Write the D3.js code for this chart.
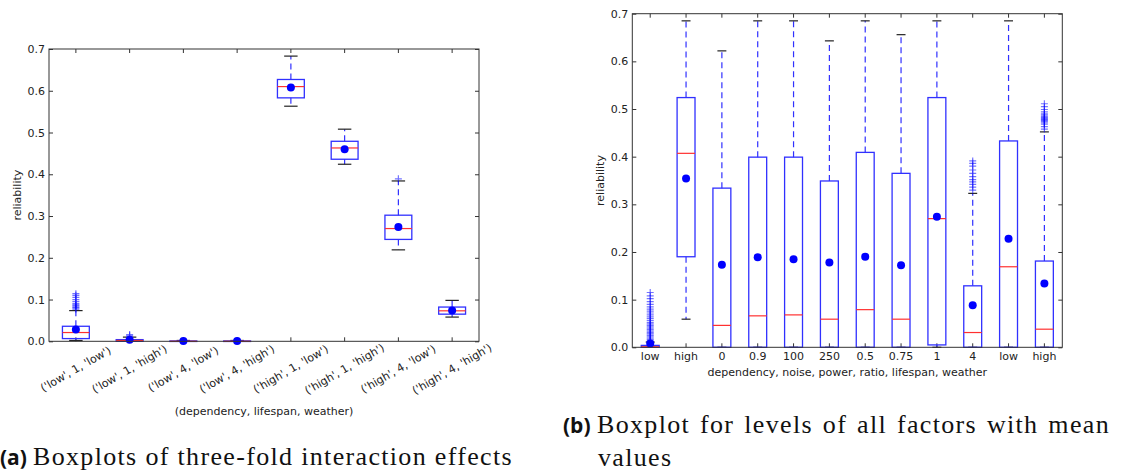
<!DOCTYPE html>
<html>
<head>
<meta charset="utf-8">
<script src="https://cdn.jsdelivr.net/npm/d3@7"></script>
<style>
  body { margin: 0; background: #fff; }
</style>
</head>
<body>
<script>
const width = 1124;
const height = 473;

// ---- panel (a) data ----
const leftCats = ["('low', 1, 'low')", "('low', 1, 'high')", "('low', 4, 'low')", "('low', 4, 'high')",
  "('high', 1, 'low')", "('high', 1, 'high')", "('high', 4, 'low')", "('high', 4, 'high')"];
const leftLow = [0.002, 0.0, 0.0, 0.0, 0.563, 0.424, 0.219, 0.058];
const leftQ1 = [0.0065, 0.0, 0.0, 0.0, 0.583, 0.436, 0.244, 0.065];
const leftMedian = [0.021, 0.002, 0.0, 0.0, 0.610, 0.463, 0.270, 0.073];
const leftQ3 = [0.036, 0.004, 0.0008, 0.0008, 0.627, 0.479, 0.302, 0.082];
const leftHigh = [0.0735, 0.010, 0.002, 0.002, 0.683, 0.508, 0.384, 0.098];
const leftMean = [0.028, 0.004, 0.001, 0.001, 0.608, 0.460, 0.274, 0.074];
const leftOutliers = [
  [0.077, 0.080, 0.082, 0.085, 0.087, 0.090, 0.095, 0.100, 0.105, 0.110, 0.114],
  [0.013, 0.016], [], [], [], [], [0.389], []];

// ---- panel (b) data ----
const rightCats = ["low", "high", "0", "0.9", "100", "250", "0.5", "0.75", "1", "4", "low", "high"];
const rightLow = [0, 0.059, 0, 0, 0, 0, 0, 0, 0, 0, 0, 0];
const rightQ1 = [0, 0.190, 0, 0, 0, 0, 0, 0, 0.005, 0, 0, 0];
const rightMedian = [0.001, 0.407, 0.046, 0.066, 0.068, 0.059, 0.079, 0.059, 0.270, 0.031, 0.169, 0.038];
const rightQ3 = [0.004, 0.524, 0.334, 0.399, 0.399, 0.349, 0.409, 0.365, 0.524, 0.129, 0.433, 0.181];
const rightHigh = [0.011, 0.685, 0.622, 0.685, 0.685, 0.643, 0.685, 0.656, 0.685, 0.323, 0.685, 0.452];
const rightMean = [0.008, 0.354, 0.173, 0.189, 0.185, 0.178, 0.190, 0.172, 0.274, 0.088, 0.228, 0.134];
const rightOutliers = [
  [0.013, 0.016, 0.019, 0.022, 0.025, 0.028, 0.031, 0.034, 0.037, 0.040, 0.043, 0.046, 0.049, 0.052,
   0.056, 0.060, 0.064, 0.068, 0.072, 0.076, 0.080, 0.085, 0.090, 0.096, 0.102, 0.108, 0.115],
  [], [], [], [], [], [], [], [],
  [0.330, 0.336, 0.342, 0.347, 0.352, 0.358, 0.365, 0.372, 0.380, 0.386, 0.391],
  [],
  [0.458, 0.463, 0.468, 0.471, 0.474, 0.476, 0.478, 0.480, 0.482, 0.484, 0.487, 0.490, 0.494, 0.499, 0.505, 0.511]];

const yTicks = [0, 0.1, 0.2, 0.3, 0.4, 0.5, 0.6, 0.7];

const svg = d3.select("body").append("svg")
  .attr("width", width)
  .attr("height", height);
svg.append("rect").attr("width", width).attr("height", height).attr("fill", "#fff");

const boxColor = "#3030ff";
const sans = "DejaVu Sans, sans-serif";

// draws one matplotlib-like boxplot panel
const drawPanel = (p) => {
  const g = svg.append("g");
  const idx = d3.range(p.cats.length);
  const x = d3.scaleBand().domain(idx).range([p.x0, p.x1]);
  const y = d3.scaleLinear().domain([0, 0.7]).range([p.y1, p.y0]);
  const bw = x.bandwidth() * 0.5;
  const cx = (i) => x(i) + x.bandwidth() / 2;

  // ticks (inside, on all four sides)
  const ax = g.append("g").attr("transform", `translate(0,${p.y1})`)
    .call(d3.axisBottom(x).tickSizeInner(-4).tickSizeOuter(0).tickPadding(p.xPad)
      .tickFormat((i) => p.cats[i]));
  g.append("g").attr("transform", `translate(0,${p.y0})`)
    .call(d3.axisTop(x).tickSizeInner(-4).tickSizeOuter(0).tickFormat(""));
  g.append("g").attr("transform", `translate(${p.x0},0)`)
    .call(d3.axisLeft(y).tickValues(yTicks).tickSizeInner(-4).tickSizeOuter(0).tickPadding(4)
      .tickFormat(d3.format(".1f")));
  g.append("g").attr("transform", `translate(${p.x1},0)`)
    .call(d3.axisRight(y).tickValues(yTicks).tickSizeInner(-4).tickSizeOuter(0).tickFormat(""));
  g.selectAll(".domain").remove();
  g.selectAll(".tick line").attr("stroke", "#333");
  g.selectAll(".tick text").attr("font-size", 11).attr("font-family", sans).attr("fill", "#222");

  if (p.rotate) {
    ax.selectAll(".tick text")
      .attr("y", null).attr("dy", null)
      .attr("text-anchor", "middle")
      .attr("dominant-baseline", "central")
      .attr("transform", "translate(0,28) rotate(-30)");
  }

  // whiskers
  const wh = g.append("g");
  idx.forEach((i) => {
    wh.append("line").attr("x1", cx(i)).attr("x2", cx(i))
      .attr("y1", y(p.q3[i])).attr("y2", y(p.high[i]));
    wh.append("line").attr("x1", cx(i)).attr("x2", cx(i))
      .attr("y1", y(p.q1[i])).attr("y2", y(p.low[i]));
  });
  wh.selectAll("line").attr("stroke", boxColor).attr("stroke-width", 1.2)
    .attr("stroke-dasharray", "6,4");

  // caps
  g.selectAll("line.caphi").data(idx).join("line").attr("class", "caphi")
    .attr("x1", (i) => cx(i) - bw / 4).attr("x2", (i) => cx(i) + bw / 4)
    .attr("y1", (i) => y(p.high[i])).attr("y2", (i) => y(p.high[i]))
    .attr("stroke", "#222").attr("stroke-width", 1.2);
  g.selectAll("line.caplo").data(idx).join("line").attr("class", "caplo")
    .attr("x1", (i) => cx(i) - bw / 4).attr("x2", (i) => cx(i) + bw / 4)
    .attr("y1", (i) => y(p.low[i])).attr("y2", (i) => y(p.low[i]))
    .attr("stroke", "#222").attr("stroke-width", 1.2);

  // boxes
  g.selectAll("rect.box").data(idx).join("rect").attr("class", "box")
    .attr("x", (i) => cx(i) - bw / 2)
    .attr("width", bw)
    .attr("y", (i) => y(p.q3[i]))
    .attr("height", (i) => Math.max(0.5, y(p.q1[i]) - y(p.q3[i])))
    .attr("fill", "none").attr("stroke", boxColor).attr("stroke-width", 1.3);

  // medians
  g.selectAll("line.med").data(idx).join("line").attr("class", "med")
    .attr("x1", (i) => cx(i) - bw / 2).attr("x2", (i) => cx(i) + bw / 2)
    .attr("y1", (i) => y(p.median[i])).attr("y2", (i) => y(p.median[i]))
    .attr("stroke", "#ff3030").attr("stroke-width", 1.2);

  // fliers
  const fl = [];
  idx.forEach((i) => p.outliers[i].forEach((v) => fl.push([i, v])));
  g.selectAll("path.fl").data(fl).join("path").attr("class", "fl")
    .attr("d", (d) => `M${cx(d[0]) - 3.5},${y(d[1])}h7M${cx(d[0])},${y(d[1]) - 3.5}v7`)
    .attr("stroke", "#0000ff").attr("stroke-opacity", 0.55).attr("stroke-width", 1.2);

  // means
  g.selectAll("circle.mean").data(idx).join("circle").attr("class", "mean")
    .attr("cx", cx).attr("cy", (i) => y(p.mean[i])).attr("r", 4)
    .attr("fill", "#0000ff");

  // frame
  g.append("rect").attr("x", p.x0).attr("y", p.y0)
    .attr("width", p.x1 - p.x0).attr("height", p.y1 - p.y0)
    .attr("fill", "none").attr("stroke", "#333").attr("stroke-width", 1);

  // axis labels
  g.append("text").attr("transform", `translate(${p.yLabX},${(p.y0 + p.y1) / 2}) rotate(-90)`)
    .attr("text-anchor", "middle").attr("dominant-baseline", "central")
    .attr("font-family", sans).attr("fill", "#222")
    .attr("font-size", 11).text("reliability");
  g.append("text").attr("x", (p.x0 + p.x1) / 2).attr("y", p.xLabY)
    .attr("text-anchor", "middle").attr("dominant-baseline", "central")
    .attr("font-family", sans).attr("fill", "#222")
    .attr("font-size", 11).text(p.xLabel);
};

drawPanel({
  cats: leftCats, low: leftLow, q1: leftQ1, median: leftMedian, q3: leftQ3, high: leftHigh,
  mean: leftMean, outliers: leftOutliers,
  x0: 49, x1: 479, y0: 49, y1: 341.3, xPad: 4, rotate: true,
  yLabX: 17, xLabY: 411, xLabel: "(dependency, lifespan, weather)"
});

drawPanel({
  cats: rightCats, low: rightLow, q1: rightQ1, median: rightMedian, q3: rightQ3, high: rightHigh,
  mean: rightMean, outliers: rightOutliers,
  x0: 632.3, x1: 1062.3, y0: 13.7, y1: 347.3, xPad: 5, rotate: false,
  yLabX: 600, xLabY: 372, xLabel: "dependency, noise, power, ratio, lifespan, weather"
});

// captions: bold sans label + serif text
const serif = "Liberation Serif, DejaVu Serif, serif";
const capText = (x, base, txt) => svg.append("text").attr("x", x).attr("y", base)
  .style("font-family", serif).attr("font-size", 26).attr("fill", "#111").text(txt);
const capLabel = (x, base, txt) => svg.append("text").attr("x", x).attr("y", base)
  .style("font-family", "Open Sans, sans-serif").attr("font-weight", "bold").attr("font-size", 21)
  .attr("fill", "#111").text(txt);

// (a): stretch letters so the line spans the same width as in the paper
capLabel(0, 465, "(a)");
const ta = capText(33, 465, "Boxplots of three-fold interaction effects");
const txtA = "Boxplots of three-fold interaction effects";
const ls = (513 - 33 - ta.node().getComputedTextLength()) / txtA.length;
ta.attr("letter-spacing", ls);

// (b): same letter spacing, then justified with word spacing
capLabel(563, 433, "(b)");
const txtB = "Boxplot for levels of all factors with mean";
const tb = capText(597, 433, txtB).attr("letter-spacing", ls);
const wb = tb.node().getComputedTextLength();
tb.attr("word-spacing", Math.max(0, (1110 - 597 - wb) / (txtB.split(" ").length - 1)));
capText(598, 466, "values").attr("letter-spacing", ls);
</script>
</body>
</html>
